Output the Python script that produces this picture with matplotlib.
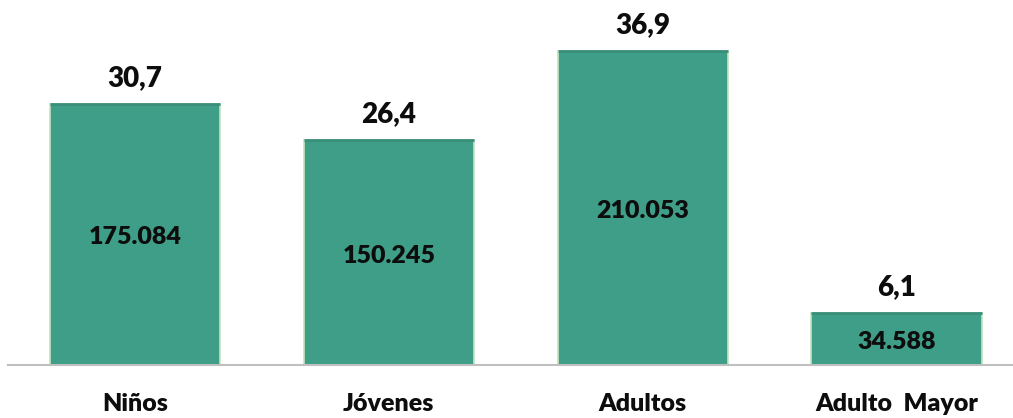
import matplotlib.pyplot as plt

categories = ['Niños', 'Jóvenes', 'Adultos', 'Adulto  Mayor']
percent = [30.7, 26.4, 36.9, 6.1]
counts = ['175.084', '150.245', '210.053', '34.588']
percent_labels = ['30,7', '26,4', '36,9', '6,1']

plt.rcParams['font.family'] = ['Lato', 'DejaVu Sans']

fig = plt.figure(figsize=(10.13, 4.18), dpi=100)
ax = fig.add_axes([8 / 1013, 53 / 418, 1004 / 1013, 357.4 / 418])

x = list(range(len(categories)))
bars = ax.bar(x, percent, width=0.67, color='#3f9e87', edgecolor='#c6e3bd', linewidth=1.2)
ax.hlines(percent, [i - 0.335 for i in x], [i + 0.335 for i in x], color='#3a8f7a', lw=2)

for i, b in enumerate(bars):
    h = b.get_height()
    ax.annotate(percent_labels[i], (i, h), xytext=(0, 13), textcoords='offset points',
                ha='center', va='baseline', fontsize=20, fontweight='heavy', color='#0d0d0d')
    ax.text(i, h / 2 - 0.35, counts[i], ha='center', va='center',
            fontsize=18, fontweight='heavy', color='#0d0d0d')

ax.set_xlim(-0.5, 3.455)
ax.set_ylim(0, 42)
ax.set_yticks([])
ax.set_xticks(x)
ax.set_xticklabels(categories, fontsize=18, fontweight='heavy', color='#0d0d0d')
ax.tick_params(axis='x', length=0, pad=20)
for s in ['top', 'right', 'left']:
    ax.spines[s].set_visible(False)
ax.spines['bottom'].set_color('#bfbfbf')
ax.spines['bottom'].set_linewidth(1.5)

plt.savefig('out.png', dpi=100)
